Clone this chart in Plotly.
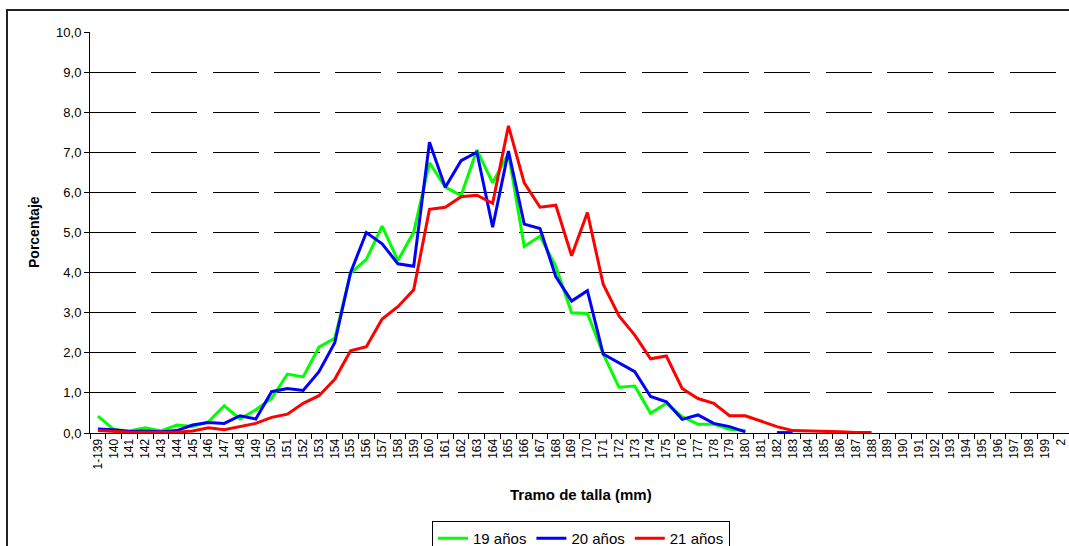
import plotly.graph_objects as go

categories = ["1-139"] + [str(v) for v in range(140, 200)] + ["2"]

green_19 = [0.42, 0.09, 0.05, 0.13, 0.05, 0.20, 0.16, 0.28, 0.68, 0.35,
            0.58, 0.86, 1.47, 1.40, 2.14, 2.36, 3.98, 4.33, 5.16, 4.30,
            5.01, 6.74, 6.13, 5.92, 7.06, 6.24, 6.97, 4.65, 4.91, 4.15,
            3.00, 2.98, 1.97, 1.14, 1.17, 0.49, 0.74, 0.41, 0.22, 0.22,
            0.09, 0.06]

blue_20 = [0.10, 0.08, 0.04, 0.05, 0.03, 0.06, 0.20, 0.26, 0.24, 0.43,
           0.35, 1.03, 1.11, 1.06, 1.53, 2.25, 4.00, 5.00, 4.72, 4.22,
           4.16, 7.25, 6.13, 6.79, 7.00, 5.13, 7.03, 5.21, 5.10, 3.90,
           3.29, 3.55, 1.97, 1.75, 1.53, 0.91, 0.78, 0.34, 0.45, 0.24,
           0.16, 0.03, None, 0.01, 0.01]

red_21 = [0.06, 0.04, 0.02, 0.02, 0.02, 0.02, 0.05, 0.13, 0.08, 0.16,
          0.24, 0.39, 0.47, 0.74, 0.93, 1.34, 2.05, 2.15, 2.84, 3.15,
          3.57, 5.58, 5.63, 5.89, 5.93, 5.73, 7.66, 6.24, 5.63, 5.68,
          4.42, 5.50, 3.71, 2.92, 2.44, 1.85, 1.92, 1.11, 0.86, 0.74,
          0.43, 0.43, 0.30, 0.16, 0.06, 0.05, 0.05, 0.03, 0.01, 0.01]

series = [
    ("19 años", green_19, "#00FF00"),
    ("20 años", blue_20, "#0000FF"),
    ("21 años", red_21, "#FF0000"),
]

FONT = "Liberation Sans, Arial, sans-serif"

fig = go.Figure()
for name, vals, color in series:
    padded = list(vals) + [None] * (len(categories) - len(vals))
    fig.add_trace(go.Scatter(
        x=categories, y=padded, name=name, mode="lines",
        line=dict(color=color, width=3), connectgaps=False,
    ))

W, H = 1069, 546
L, R, T, B = 90, 0, 32, 113
pw = W - L - R
ph = H - T - B

def px_x(x):
    return (x - L) / pw

def px_y(y):
    return (H - B - y) / ph

fig.update_layout(
    width=W, height=H,
    margin=dict(l=L, r=R, t=T, b=B),
    paper_bgcolor="white", plot_bgcolor="white",
    separators=",.",
    font=dict(family=FONT, size=12, color="black"),
    showlegend=True,
    legend=dict(
        orientation="h", xref="paper", x=px_x(581), xanchor="center",
        yref="container", y=1 - 521 / H, yanchor="top",
        bordercolor="black", borderwidth=1,
        font=dict(family=FONT, size=15, color="black"),
        itemwidth=30, tracegroupgap=0,
    ),
    xaxis=dict(
        type="category", categoryorder="array", categoryarray=categories,
        range=[-0.5, len(categories) - 0.5],
        showline=True, linecolor="black", linewidth=1,
        ticks="outside", ticklen=5, tickcolor="black", tickson="boundaries",
        tickangle=-90, tickfont=dict(family=FONT, size=12, color="black"),
        showgrid=False, zeroline=False, automargin=False,
    ),
    yaxis=dict(
        range=[0, 10], dtick=1, tickformat=".1f",
        showline=True, linecolor="black", linewidth=1,
        ticks="outside", ticklen=5, tickcolor="black",
        tickfont=dict(family=FONT, size=13, color="black"),
        showgrid=True, gridcolor="black", gridwidth=1,
        griddash="46px,15.3px", zeroline=False, automargin=False,
    ),
    annotations=[
        dict(text="<b>Tramo de talla (mm)</b>", xref="paper", yref="paper",
             x=px_x(581), y=px_y(494), xanchor="center", yanchor="middle",
             showarrow=False, font=dict(family=FONT, size=15, color="black")),
        dict(text="<b>Porcentaje</b>", xref="paper", yref="paper",
             x=px_x(34), y=px_y(232), xanchor="center", yanchor="middle",
             textangle=-90, showarrow=False,
             font=dict(family=FONT, size=14, color="black")),
    ],
    shapes=[
        dict(type="rect", xref="paper", yref="paper",
             x0=px_x(7), x1=px_x(1085), y0=px_y(570), y1=px_y(10),
             line=dict(color="#222222", width=2), fillcolor="rgba(0,0,0,0)",
             layer="below"),
    ],
)

fig.write_html(
    "out.html",
    config={"displayModeBar": False},
    post_script="document.body.style.margin='0';document.body.style.overflow='hidden';",
)
